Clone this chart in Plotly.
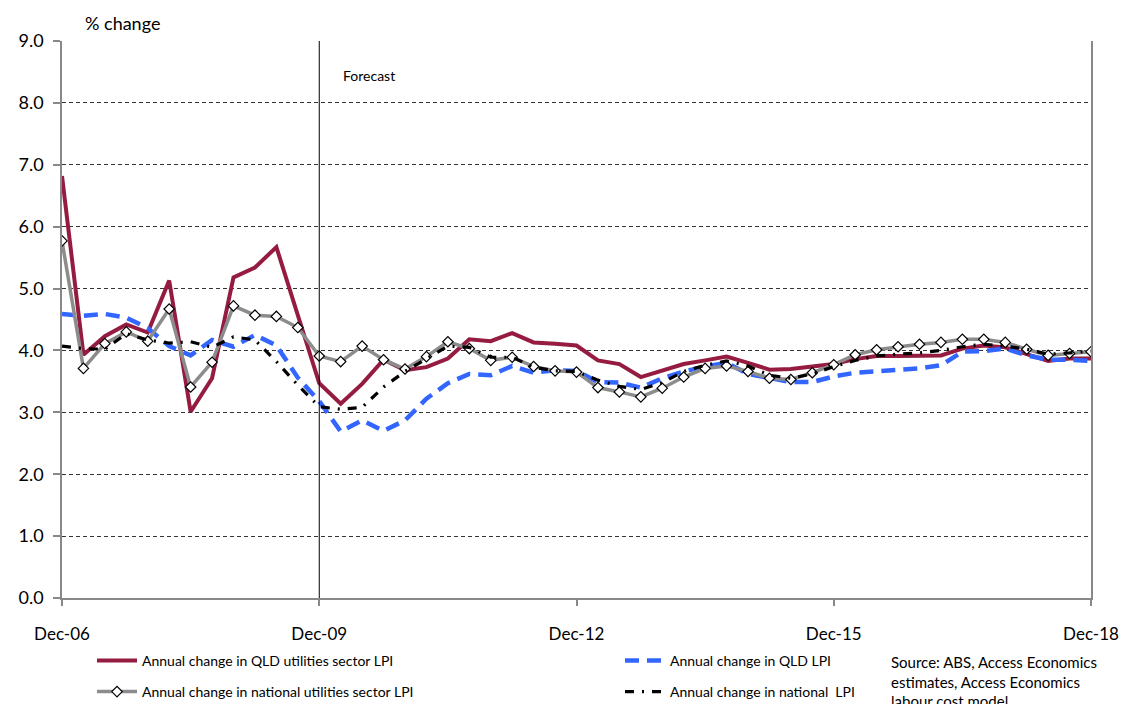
import plotly.graph_objects as go

# Quarter labels, Dec-06 .. Dec-18
months = ["Mar", "Jun", "Sep", "Dec"]
quarters = ["Dec-06"] + [f"{m}-{y % 100:02d}" for y in range(2007, 2019) for m in months]

qld_util = [6.82, 3.93, 4.23, 4.42, 4.29, 5.13, 3.01, 3.55, 5.18, 5.34, 5.67, 4.55,
            3.47, 3.14, 3.46, 3.85, 3.68, 3.73, 3.87, 4.18, 4.15, 4.28, 4.13, 4.11,
            4.08, 3.84, 3.78, 3.57, 3.67, 3.78, 3.84, 3.90, 3.80, 3.69, 3.70, 3.74,
            3.78, 3.86, 3.91, 3.91, 3.91, 3.92, 4.03, 4.08, 4.05, 3.94, 3.83, 3.87, 3.87]

qld_lpi = [4.59, 4.56, 4.59, 4.53, 4.36, 4.07, 3.92, 4.17, 4.06, 4.25, 4.08, 3.56,
           3.18, 2.69, 2.87, 2.70, 2.87, 3.22, 3.47, 3.62, 3.60, 3.75, 3.64, 3.68,
           3.67, 3.49, 3.48, 3.40, 3.55, 3.66, 3.74, 3.80, 3.62, 3.55, 3.49, 3.49,
           3.58, 3.64, 3.66, 3.68, 3.71, 3.76, 3.98, 3.99, 4.03, 3.92, 3.85, 3.85, 3.83]

nat_util = [5.77, 3.71, 4.11, 4.30, 4.15, 4.67, 3.41, 3.81, 4.72, 4.57, 4.55, 4.37,
            3.91, 3.82, 4.07, 3.85, 3.70, 3.90, 4.14, 4.03, 3.84, 3.89, 3.74, 3.67,
            3.65, 3.40, 3.33, 3.25, 3.39, 3.57, 3.71, 3.75, 3.66, 3.55, 3.53, 3.64,
            3.77, 3.93, 4.01, 4.06, 4.10, 4.13, 4.18, 4.18, 4.13, 4.02, 3.92, 3.95, 3.98]

nat_lpi = [4.07, 4.03, 4.02, 4.27, 4.17, 4.12, 4.14, 4.05, 4.22, 4.17, 3.82, 3.44,
           3.09, 3.05, 3.08, 3.41, 3.66, 3.87, 4.07, 4.05, 3.89, 3.89, 3.73, 3.67,
           3.66, 3.52, 3.42, 3.37, 3.48, 3.66, 3.76, 3.83, 3.75, 3.60, 3.55, 3.62,
           3.74, 3.84, 3.91, 3.94, 3.96, 4.00, 4.06, 4.10, 4.07, 4.02, 3.94, 3.96, 3.99]

tick_labels = ["Dec-06", "Dec-09", "Dec-12", "Dec-15", "Dec-18"]
y_ticks = [i * 1.0 for i in range(10)]
forecast_start = "Dec-09"

FONT = "Lato, 'Open Sans', sans-serif"

W, H = 1127, 704
ML, MR, MT, MB = 62, 36, 41, 106
pw, ph = W - ML - MR, H - MT - MB


def px_x(p):
    return (p - ML) / pw


def px_y(p):
    return (H - MB - p) / ph


fig = go.Figure()

fig.add_trace(go.Scatter(
    x=quarters, y=qld_util, mode="lines",
    name="Annual change in QLD utilities sector LPI",
    line=dict(color="#951C40", width=4),
    legend="legend",
))
fig.add_trace(go.Scatter(
    x=quarters, y=qld_lpi, mode="lines",
    name="Annual change in QLD LPI",
    line=dict(color="#3366FF", width=4.5, dash="14px,8px"),
    legend="legend2",
))
fig.add_trace(go.Scatter(
    x=quarters, y=nat_util, mode="lines+markers",
    name="Annual change in national utilities sector LPI",
    line=dict(color="#8C8C8C", width=3.5),
    marker=dict(symbol="diamond", size=8, color="white",
                line=dict(color="black", width=1.2)),
    legend="legend3",
))
fig.add_trace(go.Scatter(
    x=quarters, y=nat_lpi, mode="lines",
    name="Annual change in national  LPI",
    line=dict(color="black", width=3.2, dash="9px,8px,2px,8px"),
    legend="legend4",
))

# Start of forecast period
fig.add_shape(type="line", xref="x", yref="y",
              x0=forecast_start, x1=forecast_start, y0=0, y1=9,
              line=dict(color="black", width=1))

fig.add_annotation(x=forecast_start, y=8.45, xref="x", yref="y",
                   text="Forecast", showarrow=False, xanchor="left", xshift=22,
                   font=dict(family=FONT, size=14, color="black"))

fig.add_annotation(x=px_x(83), y=px_y(23), xref="paper", yref="paper", text="% change",
                   showarrow=False, xanchor="left", yanchor="middle",
                   font=dict(family=FONT, size=18, color="black"))

fig.add_annotation(x=px_x(889), y=px_y(651),
                   text="Source: ABS, Access Economics<br>estimates, Access Economics<br>labour cost model",
                   xref="paper", yref="paper", showarrow=False,
                   xanchor="left", yanchor="top", align="left",
                   font=dict(family=FONT, size=15, color="black"))


def legend_at(x_px, y_px):
    return dict(
        x=px_x(x_px), y=px_y(y_px), xanchor="left", yanchor="middle",
        orientation="h", bgcolor="rgba(0,0,0,0)", itemwidth=40,
        font=dict(family=FONT, size=14, color="black"),
    )


fig.update_layout(
    width=W, height=H,
    margin=dict(l=ML, r=MR, t=MT, b=MB, autoexpand=False),
    paper_bgcolor="white", plot_bgcolor="white",
    font=dict(family=FONT, color="black"),
    showlegend=True,
    legend=legend_at(92, 661),
    legend2=legend_at(620, 661),
    legend3=legend_at(92, 692),
    legend4=legend_at(620, 692),
    xaxis=dict(
        type="category", range=[0, len(quarters) - 1],
        tickmode="array", tickvals=tick_labels, ticktext=tick_labels,
        ticks="outside", ticklen=6, tickcolor="#888", tickwidth=1.5,
        showline=True, linecolor="#888", linewidth=1.5,
        showgrid=False, zeroline=False,
        tickfont=dict(family=FONT, size=17, color="black"),
        ticklabelstandoff=14,
    ),
    yaxis=dict(
        range=[0, 9], tickmode="array", tickvals=y_ticks,
        ticktext=[f"{v:.1f}" for v in y_ticks],
        ticks="outside", ticklen=7, tickcolor="#888", tickwidth=1.5,
        showline=True, linecolor="#888", linewidth=1.5, mirror=True,
        showgrid=True, gridcolor="#333", gridwidth=1, griddash="4px,3px",
        zeroline=False,
        tickfont=dict(family=FONT, size=18, color="black"),
        ticklabelstandoff=6,
    ),
)

fig.write_html("out.html")
